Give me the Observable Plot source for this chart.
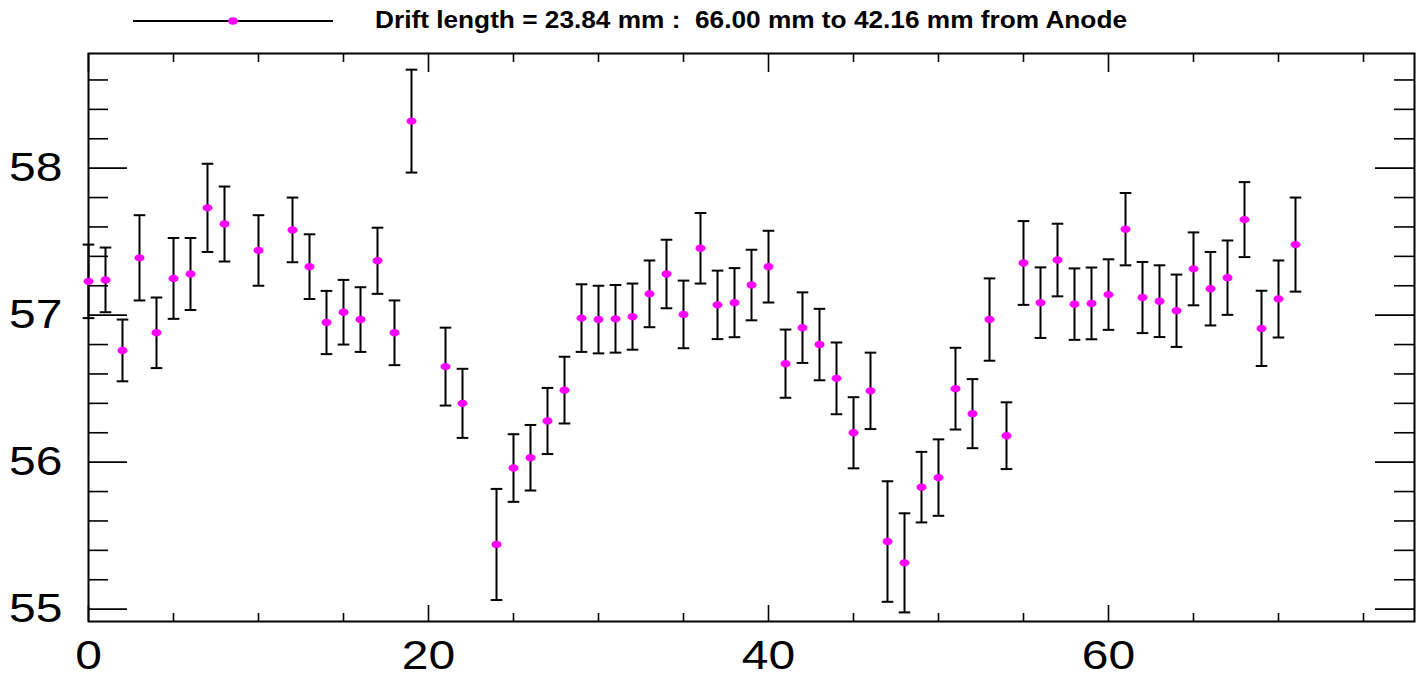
<!DOCTYPE html>
<html>
<head>
<meta charset="utf-8">
<script src="https://cdn.jsdelivr.net/npm/d3@7"></script>
<script src="https://cdn.jsdelivr.net/npm/@observablehq/plot@0.6"></script>
<style>
  body { margin: 0; background: #fff; font-family: "Liberation Sans", Arial, sans-serif; overflow: hidden; }
  #legend { width: 1420px; height: 42px; }
  #legend svg { display: block; }
</style>
</head>
<body>
<div id="legend"></div>
<div id="chart"></div>
<script>
// ---- data ----
const xIndex = [0,1,2,3,4,5,6,7,8,10,12,13,14,15,16,17,18,19,21,22,
  24,25,26,27,28,29,30,31,32,33,34,35,36,37,38,39,40,41,42,43,44,45,46,47,48,49,
  50,51,52,53,54,55,56,57,58,59,60,61,62,63,64,65,66,67,68,69,70,71];
const values = [57.23,57.24,56.76,57.39,56.88,57.25,57.28,57.73,57.62,57.44,57.58,57.33,56.95,57.02,56.97,57.37,56.88,58.32,56.65,56.40,
  55.44,55.96,56.03,56.28,56.49,56.98,56.97,56.975,56.99,57.145,57.28,57.005,57.455,57.07,57.085,57.205,57.33,56.67,56.915,56.80,56.57,56.20,56.485,55.46,55.315,55.83,
  55.895,56.50,56.33,56.97,56.18,57.355,57.085,57.375,57.075,57.08,57.14,57.585,57.12,57.095,57.03,57.315,57.18,57.255,57.65,56.91,57.11,57.48];
const errors = [0.25,0.22,0.21,0.29,0.24,0.275,0.245,0.30,0.255,0.24,0.22,0.22,0.215,0.22,0.22,0.225,0.22,0.35,0.265,0.235,
  0.378,0.23,0.223,0.225,0.227,0.23,0.23,0.23,0.225,0.227,0.233,0.23,0.24,0.233,0.235,0.24,0.244,0.232,0.24,0.243,0.244,0.242,0.26,0.41,0.337,0.24,
  0.26,0.278,0.235,0.28,0.227,0.285,0.24,0.247,0.243,0.244,0.24,0.246,0.242,0.244,0.246,0.248,0.25,0.253,0.255,0.256,0.262,0.32];
const xMajorTicks = [0, 20, 40, 60];
const xMinorTicks = [5, 10, 15, 25, 30, 35, 45, 50, 55, 65, 70, 75];
const yMajorTicks = [55, 56, 57, 58];
const yMinorTicks = [55.2,55.4,55.6,55.8,56.2,56.4,56.6,56.8,57.2,57.4,57.6,57.8,58.2,58.4,58.6];
const xDomain = [0, 78];
const yDomain = [54.916, 58.78];
const titleText = "Drift length = 23.84 mm :  66.00 mm to 42.16 mm from Anode";

const data = xIndex.map((x, i) => ({x, y: values[i], lo: values[i] - errors[i], hi: values[i] + errors[i]}));

// ---- legend / title above the chart ----
const leg = d3.select("#legend").append("svg").attr("width", 1420).attr("height", 42);
leg.append("line").attr("x1", 133).attr("x2", 333).attr("y1", 21).attr("y2", 21)
  .attr("stroke", "#000").attr("stroke-width", 2);
leg.append("ellipse").attr("cx", 233).attr("cy", 21).attr("rx", 5).attr("ry", 3.8).attr("fill", "#ff00ff");
leg.append("text").attr("x", 375).attr("y", 28.3)
  .attr("font-family", "'Liberation Sans', Arial, sans-serif")
  .attr("font-weight", "bold").attr("font-size", 23)
  .attr("textLength", 752).attr("lengthAdjust", "spacingAndGlyphs")
  .style("white-space", "pre")
  .text(titleText);

// ---- custom symbols ----
const capSymbol = { draw(ctx) { ctx.moveTo(-5.8, 0); ctx.lineTo(5.8, 0); } };
const ellipseSymbol = { draw(ctx) {
  const rx = 5, ry = 3.7, k = 0.5523;
  ctx.moveTo(rx, 0);
  ctx.bezierCurveTo(rx, ry * k, rx * k, ry, 0, ry);
  ctx.bezierCurveTo(-rx * k, ry, -rx, ry * k, -rx, 0);
  ctx.bezierCurveTo(-rx, -ry * k, -rx * k, -ry, 0, -ry);
  ctx.bezierCurveTo(rx * k, -ry, rx, -ry * k, rx, 0);
  ctx.closePath();
} };

const W = 1420, H = 637;
const mL = 88, mR = 6, mT = 11, mB = 58;
const plotW = W - mL - mR, plotH = H - mT - mB;

const chart = Plot.plot({
  width: W, height: H,
  marginLeft: mL, marginRight: mR, marginTop: mT, marginBottom: mB,
  style: { fontFamily: "'Liberation Sans', Arial, sans-serif", background: "#fff", color: "#000" },
  x: { domain: xDomain, label: null },
  y: { domain: yDomain, label: null },
  marks: [
    Plot.axisX({ ticks: xMajorTicks, tickSize: 0, tickPadding: 19, fontSize: 40, label: null, tickFormat: d => String(d) }),
    Plot.axisY({ ticks: yMajorTicks, tickSize: 0, tickPadding: 26, fontSize: 40, label: null, tickFormat: d => String(d) }),
    // y ticks, inward, left and right
    Plot.tickY(yMajorTicks, { y: d => d, insetRight: plotW - 39, stroke: "#000", strokeWidth: 1.6 }),
    Plot.tickY(yMinorTicks, { y: d => d, insetRight: plotW - 20, stroke: "#000", strokeWidth: 1.6 }),
    Plot.tickY(yMajorTicks, { y: d => d, insetLeft: plotW - 39, stroke: "#000", strokeWidth: 1.6 }),
    Plot.tickY(yMinorTicks, { y: d => d, insetLeft: plotW - 20, stroke: "#000", strokeWidth: 1.6 }),
    // x ticks, inward, bottom and top
    Plot.tickX(xMajorTicks, { x: d => d, insetTop: plotH - 16, stroke: "#000", strokeWidth: 1.6 }),
    Plot.tickX(xMinorTicks, { x: d => d, insetTop: plotH - 8, stroke: "#000", strokeWidth: 1.6 }),
    Plot.tickX(xMajorTicks, { x: d => d, insetBottom: plotH - 19, stroke: "#000", strokeWidth: 1.6 }),
    Plot.tickX(xMinorTicks, { x: d => d, insetBottom: plotH - 9, stroke: "#000", strokeWidth: 1.6 }),
    Plot.frame({ stroke: "#000", strokeWidth: 2 }),
    // error bars
    Plot.ruleX(data, { x: "x", y1: "lo", y2: "hi", stroke: "#000", strokeWidth: 2 }),
    Plot.dot(data, { x: "x", y: "lo", symbol: capSymbol, r: 5, fill: "none", stroke: "#000", strokeWidth: 2 }),
    Plot.dot(data, { x: "x", y: "hi", symbol: capSymbol, r: 5, fill: "none", stroke: "#000", strokeWidth: 2 }),
    // points
    Plot.dot(data, { x: "x", y: "y", symbol: ellipseSymbol, r: 5, fill: "#ff00ff", stroke: "none" })
  ]
});

// widen tick labels horizontally like the reference
d3.select(chart).selectAll("g[aria-label='x-axis tick label'] text, g[aria-label='y-axis tick label'] text")
  .each(function() {
    const t = this.getAttribute("transform");
    if (t) {
      this.setAttribute("transform", t + " scale(1.2,1)");
    } else {
      const x = +this.getAttribute("x") || 0;
      this.setAttribute("x", x / 1.2);
      this.setAttribute("transform", "scale(1.2,1)");
    }
  });

document.getElementById("chart").appendChild(chart);
</script>
</body>
</html>
